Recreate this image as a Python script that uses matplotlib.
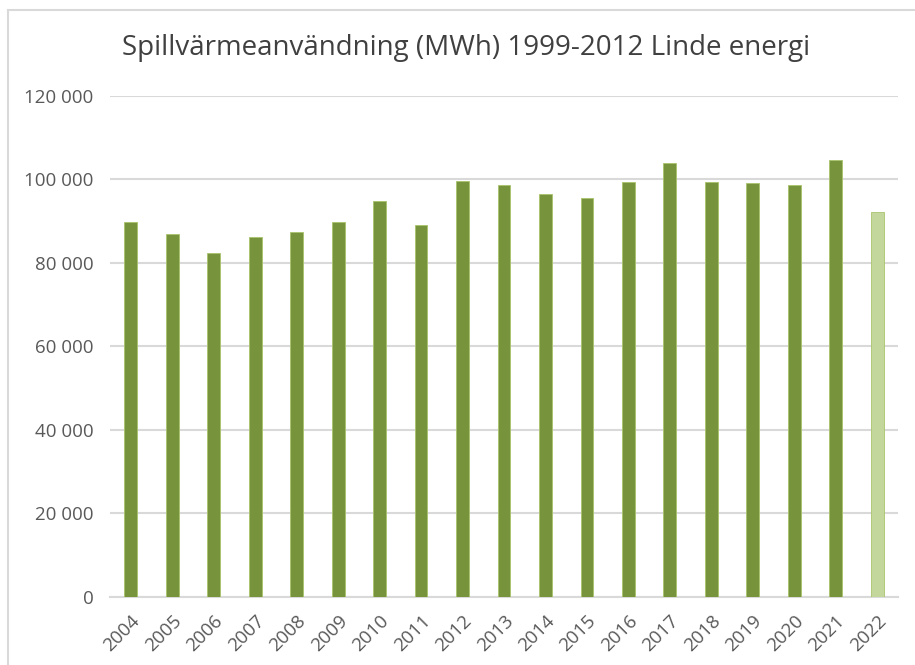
import numpy as np
import matplotlib
matplotlib.use('Agg')
import matplotlib.pyplot as plt
from matplotlib.patches import Rectangle
from matplotlib.ticker import FuncFormatter

years = ['2004', '2005', '2006', '2007', '2008', '2009', '2010', '2011', '2012',
         '2013', '2014', '2015', '2016', '2017', '2018', '2019', '2020', '2021', '2022']
mwh = [89850, 86900, 82300, 86100, 87450, 89850, 94900, 89100, 99700,
       98750, 96600, 95600, 99450, 104000, 99450, 99200, 98650, 104700, 92200]
preliminary = ['2022']

dark = '#77933C'
light = '#C3D69B'
grid_col = '#D9D9D9'
txt_col = '#595959'

plt.rcParams['font.family'] = ['Open Sans', 'DejaVu Sans']

fig = plt.figure(figsize=(9.15, 6.65), dpi=100)
# chart border (only top and left visible in the screenshot)
fig.patches.append(Rectangle((8 / 915, -0.1), 1.2, 1 - 10 / 665 + 0.1,
                             transform=fig.transFigure, fill=False,
                             edgecolor=grid_col, linewidth=1.5))

ax = fig.add_axes([110 / 915, 1 - 596.5 / 665, (898 - 110) / 915, (596.5 - 96) / 665])

x = np.arange(len(years))
colors = [light if y in preliminary else dark for y in years]
ax.bar(x, mwh, width=0.31, color=colors, edgecolor='#A9C46C', linewidth=0.6, zorder=3)

ax.set_xlim(-0.5, len(years) - 0.5)
ax.set_ylim(0, 120000)
ax.set_yticks(np.arange(0, 120001, 20000))
ax.yaxis.set_major_formatter(FuncFormatter(lambda v, p: f'{int(v):,}'.replace(',', ' ')))
ax.grid(axis='y', color=grid_col, linewidth=1.5, zorder=0)
ax.set_xticks(x)
ax.set_xticklabels(years, rotation=45, ha='right', rotation_mode='anchor')

for s in ['top', 'right', 'left']:
    ax.spines[s].set_visible(False)
ax.spines['bottom'].set_color(grid_col)
ax.spines['bottom'].set_linewidth(1.5)
ax.tick_params(axis='both', length=0, labelsize=13.5, colors=txt_col)
ax.tick_params(axis='y', pad=12)
ax.tick_params(axis='x', pad=11)

fig.text(466 / 915, 1 - 48 / 665, 'Spillvärmeanvändning (MWh) 1999-2012 Linde energi',
         ha='center', va='center', fontsize=20, color='#404040')

fig.savefig('out.png', dpi=100)
